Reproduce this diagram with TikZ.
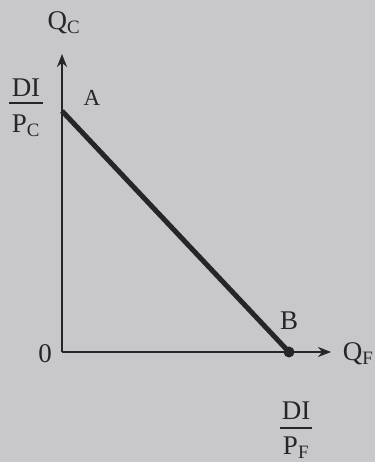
\documentclass[tikz,border=0pt]{standalone}
\usepackage{fontspec}
\setmainfont{Liberation Serif}
\usetikzlibrary{arrows.meta}
\definecolor{paper}{RGB}{200,200,203}
\definecolor{ink}{RGB}{38,38,40}
\tikzset{
  axis/.style={draw=ink,line width=2.6pt,-{Stealth[length=13pt,width=10pt]}},
  budget/.style={draw=ink,line width=5pt},
  fracrule/.style={draw=ink,line width=1.4pt},
  lbl/.style={text=ink,font=\fontsize{27}{30}\selectfont,inner sep=0pt,anchor=base},
}
\begin{document}
\begin{tikzpicture}[x=1pt,y=1pt]
\fill[paper] (0,0) rectangle (375,462);
\useasboundingbox (0,0) rectangle (375,462);
\coordinate (O) at (62,110);
\coordinate (Ytip) at (62,408);
\coordinate (Xtip) at (331,110);
\coordinate (A) at (62,351);
\coordinate (B) at (289,110);
\draw[axis] (O) -- (Ytip);
\draw[axis] (O) -- (Xtip);
\draw[budget] (A) -- (B);
\fill[ink] (B) circle (5.5);
\node[lbl] (qc) at (64,432) {Q\textsubscript{C}};
\node[lbl] (qf) at (358,101) {Q\textsubscript{F}};
\node[lbl,font=\fontsize{23}{26}\selectfont] (a) at (92,356) {A};
\node[lbl] (b) at (289,132) {B};
\node[lbl] (zero) at (45,99) {0};
% DI / P_C
\node[lbl] (dic) at (26,365) {DI};
\coordinate (rc1) at (9,359);
\coordinate (rc2) at (43,359);
\draw[fracrule] (rc1) -- (rc2);
\node[lbl] (pc) at (26,329) {P\textsubscript{C}};
% DI / P_F
\node[lbl] (dif) at (296,42) {DI};
\coordinate (rf1) at (280,34);
\coordinate (rf2) at (312,34);
\draw[fracrule] (rf1) -- (rf2);
\node[lbl] (pf) at (296,7) {P\textsubscript{F}};
\end{tikzpicture}
\end{document}
